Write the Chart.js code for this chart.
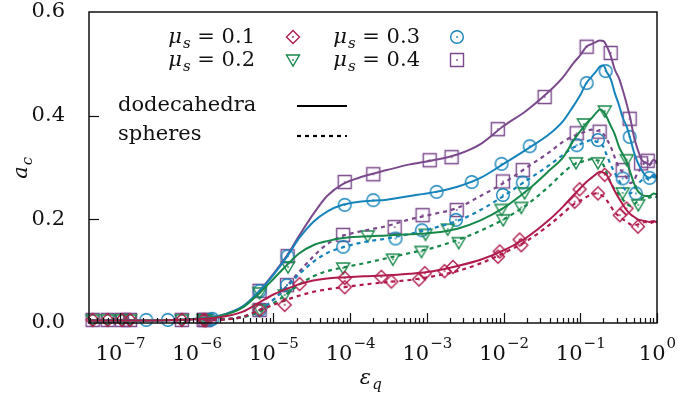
<!DOCTYPE html>
<html>
<head>
<meta charset="utf-8">
<script src="https://cdn.jsdelivr.net/npm/chart.js@4.4.0/dist/chart.umd.min.js"></script>
<style>
  body { margin: 0; background: #fff; }
  canvas { display: block; }
</style>
</head>
<body>
<canvas id="chart" width="677" height="394"></canvas>
<script>
// x grid shared by the dense curves
const lineEps = [4e-8, 1e-7, 3e-7, 1e-6, 2e-6, 4e-6, 6.6e-6, 1e-5, 1.5e-5, 2.2e-5,
  3.3e-5, 5e-5, 8e-5, 1.5e-4, 3e-4, 6e-4, 1.2e-3, 2.5e-3, 5e-3, 1e-2,
  2e-2, 4e-2, 6e-2, 8e-2, 0.1, 0.12, 0.14, 0.16, 0.18, 0.2,
  0.22, 0.25, 0.28, 0.32, 0.36, 0.4, 0.45, 0.5, 0.56, 0.63,
  0.7, 0.8, 0.9, 1.0];

// dodecahedra (solid)
const dodecaLine01 = [.005,.005,.005,.007,.011,.022,.04,.055,.066,.075, .082,.086,.088,.09,.092,.095,.1,.11,.122,.14, .165,.2,.225,.245,.26,.272,.28,.287,.292,.29, .286,.27,.255,.24,.228,.218,.21,.205,.2,.198, .197,.195,.197,.194];
const dodecaLine02 = [.005,.005,.005,.008,.013,.03,.058,.085,.112,.135, .15,.158,.164,.167,.169,.171,.174,.182,.198,.222, .255,.295,.32,.35,.37,.385,.395,.405,.412,.408, .398,.38,.365,.34,.325,.312,.29,.27,.255,.248, .245,.245,.25,.248];
const dodecaLine03 = [.005,.005,.005,.008,.014,.032,.062,.093,.128,.165, .195,.215,.228,.235,.238,.245,.252,.263,.28,.307, .335,.365,.39,.417,.44,.463,.475,.485,.495,.497, .485,.47,.445,.42,.395,.38,.355,.33,.31,.295, .285,.28,.286,.282];
const dodecaLine04 = [.005,.005,.005,.008,.014,.032,.062,.095,.13,.17, .21,.245,.268,.283,.295,.306,.314,.325,.345,.38, .41,.448,.475,.50,.517,.533,.538,.542,.545,.544, .535,.515,.49,.472,.448,.424,.394,.36,.335,.315, .31,.306,.315,.31];

// spheres (dashed)
const sphereLine01 = [null,null,null,.004,.006,.012,.025,.035,.045,.053, .06,.065,.069,.074,.079,.083,.09,.1,.115,.135, .158,.19,.212,.228,.236,.243,.248,.25,.248,.244, .237,.225,.214,.206,.2,.196,.19,.188,.19,.193, .195,.192,.195,.193];
const sphereLine02 = [null,null,null,.005,.007,.011,.022,.038,.056,.075, .09,.1,.107,.115,.125,.135,.145,.16,.178,.2, .228,.265,.29,.305,.31,.314,.316,.314,.312,.305, .29,.27,.258,.248,.238,.23,.226,.228,.235,.24, .244,.242,.245,.243];
const sphereLine03 = [null,null,null,.005,.007,.012,.025,.045,.07,.095, .118,.135,.146,.156,.163,.172,.183,.197,.218,.245, .275,.305,.325,.338,.345,.35,.353,.35,.348,.34, .325,.305,.29,.275,.262,.255,.25,.258,.268,.275, .28,.276,.282,.279];
const sphereLine04 = [null,null,null,.005,.007,.012,.025,.045,.072,.1, .128,.152,.168,.178,.187,.2,.21,.222,.245,.27, .3,.33,.35,.36,.365,.37,.373,.37,.372,.365, .355,.34,.32,.3,.29,.28,.27,.275,.29,.3, .31,.305,.312,.308];

// sampled points (markers)
const dodecaMarkEps01 = [4.4e-8, 6.9e-8, 1.06e-7, 1.35e-7, 6.4e-7, 1.23e-6, 2.19e-5, 8.5e-5, 2.55e-4, 9.4e-4, 2.19e-3, 8.9e-3, 0.0162, 0.098, 0.208, 0.40];
const dodecaMark01 = [.006,.006,.006,.006,.006,.006,.075,.087,.089,.096,.108,.138,.161,.258,.286,.221];
const dodecaMarkEps02 = [4.4e-8, 6.9e-8, 1.06e-7, 1.35e-7, 6.4e-7, 1.23e-6, 6.6e-6, 1.55e-5, 1.69e-4, 9.6e-4, 1.87e-3, 9.4e-3, 0.0188, 0.111, 0.208, 0.403];
const dodecaMark02 = [.006,.006,.006,.006,.006,.006,.058,.108,.168,.171,.181,.219,.251,.384,.409,.315];
const dodecaMarkEps03 = [2.2e-7, 4.2e-7, 1.6e-6, 6.6e-6, 1.53e-5, 8.5e-5, 2.0e-4, 1.34e-3, 3.84e-3, 9.4e-3, 0.0219, 0.121, 0.214, 0.44, 0.80];
const dodecaMark03 = [.006,.006,.008,.062,.129,.228,.237,.253,.272,.307,.341,.463,.486,.359,.28];
const dodecaMarkEps04 = [4.4e-8, 6.9e-8, 1.06e-7, 1.35e-7, 6.4e-7, 1.23e-6, 6.6e-6, 1.53e-5, 8.5e-5, 2.0e-4, 1.09e-3, 2.1e-3, 8.4e-3, 0.0343, 0.121, 0.249, 0.44, 0.757];
const dodecaMark04 = [.006,.006,.006,.006,.006,.006,.062,.129,.272,.287,.314,.320,.374,.436,.533,.521,.394,.313];

const sphereMarkEps01 = [1.3e-6, 6.6e-6, 1.4e-5, 8.5e-5, 3.44e-4, 7.9e-4, 1.7e-3, 8.45e-3, 0.017, 0.0845, 0.17, 0.327, 0.565];
const sphereMark01 = [.005,.025,.035,.069,.080,.084,.100,.128,.150,.234,.25,.208,.186];
const sphereMarkEps02 = [1.3e-6, 6.6e-6, 1.4e-5, 8.1e-5, 3.6e-4, 8.5e-4, 2.6e-3, 9.9e-3, 0.017, 0.088, 0.17, 0.357, 0.57];
const sphereMark02 = [.006,.025,.054,.106,.123,.138,.155,.199,.223,.309,.309,.251,.228];
const sphereMarkEps03 = [1.5e-6, 6.6e-6, 1.5e-5, 8.1e-5, 3.9e-4, 8.6e-4, 2.4e-3, 9.8e-3, 0.0178, 0.09, 0.17, 0.357, 0.53];
const sphereMark03 = [.006,.025,.073,.147,.163,.179,.199,.247,.271,.343,.353,.279,.25];
const sphereMarkEps04 = [1.3e-6, 6.6e-6, 1.5e-5, 8.1e-5, 3.8e-4, 8.8e-4, 2.45e-3, 9.8e-3, 0.0178, 0.0898, 0.179, 0.357, 0.62];
const sphereMark04 = [.006,.025,.073,.17,.185,.208,.218,.273,.295,.366,.369,.295,.308];

const muValues = ["0.1", "0.2", "0.3", "0.4"];
const seriesColors = ["#b01b4c", "#17884a", "#1683bb", "#7b4a8c"];
const markerShapes = ["diamond", "triangle", "circle", "square"];
const xTickExps = [-7, -6, -5, -4, -3, -2, -1, 0];
const xMin = 3.94e-8, xMax = 1;

const FONT = '"DejaVu Serif", serif';

function makeMarker(shape, color) {
  const c = document.createElement("canvas");
  c.width = 20; c.height = 20;
  const g = c.getContext("2d");
  g.strokeStyle = color; g.fillStyle = color; g.lineWidth = 1.4;
  g.beginPath();
  if (shape === "square") g.rect(3.5, 3.5, 13, 13);
  else if (shape === "circle") g.arc(10, 10, 6.3, 0, Math.PI * 2);
  else if (shape === "diamond") { g.moveTo(10, 3.5); g.lineTo(16.5, 10); g.lineTo(10, 16.5); g.lineTo(3.5, 10); g.closePath(); }
  else { g.moveTo(3.5, 5); g.lineTo(16.5, 5); g.lineTo(10, 16); g.closePath(); }
  g.stroke();
  g.fillRect(9.2, 9.2, 1.6, 1.6);
  return c;
}

const markers = markerShapes.map((s, i) => makeMarker(s, seriesColors[i]));

const toPts = (xs, ys) => xs.map((x, i) => ({ x, y: ys[i] }));

const dodecaLines = [dodecaLine01, dodecaLine02, dodecaLine03, dodecaLine04];
const sphereLines = [sphereLine01, sphereLine02, sphereLine03, sphereLine04];
const dodecaMarks = [[dodecaMarkEps01, dodecaMark01], [dodecaMarkEps02, dodecaMark02], [dodecaMarkEps03, dodecaMark03], [dodecaMarkEps04, dodecaMark04]];
const sphereMarks = [[sphereMarkEps01, sphereMark01], [sphereMarkEps02, sphereMark02], [sphereMarkEps03, sphereMark03], [sphereMarkEps04, sphereMark04]];

const datasets = [];
for (let i = 0; i < 4; i++) {
  datasets.push({ data: toPts(lineEps, sphereLines[i]), borderColor: seriesColors[i], borderWidth: 2.2,
    borderDash: [4, 4], pointRadius: 0, cubicInterpolationMode: "monotone" });
  datasets.push({ data: toPts(lineEps, dodecaLines[i]), borderColor: seriesColors[i], borderWidth: 2,
    pointRadius: 0, cubicInterpolationMode: "monotone" });
}
for (let i = 0; i < 4; i++) {
  datasets.push({ data: toPts(sphereMarks[i][0], sphereMarks[i][1]), showLine: false,
    pointStyle: markers[i], pointRadius: 7, clip: false });
  datasets.push({ data: toPts(dodecaMarks[i][0], dodecaMarks[i][1]), showLine: false,
    pointStyle: markers[i], pointRadius: 7, clip: false });
}

function subText(ctx, base, sub, x, y, size) {
  ctx.font = "italic " + size + "px " + FONT;
  ctx.fillText(base, x, y);
  const w = ctx.measureText(base).width;
  ctx.font = "italic " + Math.round(size * 0.72) + "px " + FONT;
  ctx.fillText(sub, x + w + 1, y + 5);
  return w + 1 + ctx.measureText(sub).width;
}

const decorations = {
  id: "decorations",
  afterDatasetsDraw(chart) {
    const ctx = chart.ctx;
    const a = chart.chartArea;
    const xs = chart.scales.x, ys = chart.scales.y;
    ctx.save();
    ctx.strokeStyle = "#111";
    ctx.fillStyle = "#111";
    ctx.lineWidth = 1.5;
    ctx.strokeRect(a.left, a.top, a.right - a.left, a.bottom - a.top);

    // inward ticks on the x axis
    ctx.lineWidth = 1.2;
    for (let e = -8; e <= 0; e++) {
      for (let m = 1; m <= 9; m++) {
        const v = m * Math.pow(10, e);
        if (v < xMin || v > xMax) continue;
        const px = Math.round(xs.getPixelForValue(v)) + 0.5;
        const len = m === 1 ? 10 : 5;
        ctx.beginPath(); ctx.moveTo(px, a.bottom); ctx.lineTo(px, a.bottom - len); ctx.stroke();
      }
    }
    // inward ticks on the y axis
    ys.ticks.forEach(t => {
      if (t.value <= 0 || t.value >= 0.6) return;
      const py = Math.round(ys.getPixelForValue(t.value)) + 0.5;
      ctx.beginPath(); ctx.moveTo(a.left, py); ctx.lineTo(a.left + 10, py); ctx.stroke();
    });

    // x tick labels 10^n
    ctx.textBaseline = "alphabetic";
    xTickExps.forEach(e => {
      const px = xs.getPixelForValue(Math.pow(10, e));
      const sup = e === 0 ? "0" : "\u2212" + (-e);
      ctx.font = "21px " + FONT;
      const w1 = ctx.measureText("10").width;
      ctx.font = "15px " + FONT;
      const w2 = ctx.measureText(sup).width;
      const x0 = px - (w1 + w2) / 2;
      ctx.font = "21px " + FONT;
      ctx.fillText("10", x0, 360);
      ctx.font = "15px " + FONT;
      ctx.fillText(sup, x0 + w1 + 1, 348);
    });

    // axis titles
    ctx.font = "italic 21px " + FONT;
    const we = ctx.measureText("\u03b5").width;
    subText(ctx, "\u03b5", "q", 370 - (we + 9) / 2, 384, 21);

    ctx.save();
    ctx.translate(27, 168);
    ctx.rotate(-Math.PI / 2);
    ctx.font = "italic 21px " + FONT;
    const wa = ctx.measureText("a").width;
    subText(ctx, "a", "c", -(wa + 9) / 2, 0, 21);
    ctx.restore();

    // legend: friction coefficients and markers
    const rows = [[0, 2], [1, 3]];
    const rowY = [43, 66];
    const textRight = [255, 420];
    const markX = [293, 457];
    rows.forEach((row, r) => {
      row.forEach((si, col) => {
        ctx.fillStyle = "#111";
        ctx.font = "21px " + FONT;
        const rest = " = " + muValues[si];
        const wr = ctx.measureText(rest).width;
        ctx.font = "italic 21px " + FONT;
        const wm = ctx.measureText("\u03bc").width;
        ctx.font = "italic 15px " + FONT;
        const ws = ctx.measureText("s").width;
        const x0 = textRight[col] - wr - wm - ws - 1;
        const used = subText(ctx, "\u03bc", "s", x0, rowY[r], 21);
        ctx.font = "21px " + FONT;
        ctx.fillText(rest, x0 + used, rowY[r]);
        ctx.drawImage(markers[si], markX[col] - 10, rowY[r] - 16);
      });
    });

    // legend: particle shapes
    ctx.fillStyle = "#111";
    ctx.font = "21px " + FONT;
    ctx.fillText("dodecahedra", 118, 111);
    ctx.fillText("spheres", 118, 140);
    ctx.lineWidth = 2.2;
    ctx.strokeStyle = "#000";
    ctx.beginPath(); ctx.moveTo(297, 106); ctx.lineTo(347, 106); ctx.stroke();
    ctx.setLineDash([4, 4]);
    ctx.beginPath(); ctx.moveTo(297, 136); ctx.lineTo(347, 136); ctx.stroke();
    ctx.restore();
  }
};

new Chart(document.getElementById("chart"), {
  type: "line",
  data: { datasets },
  options: {
    responsive: false,
    animation: false,
    devicePixelRatio: 1,
    layout: { padding: { top: 12, right: 20, left: 0, bottom: 0 } },
    plugins: { legend: { display: false }, tooltip: { enabled: false } },
    scales: {
      x: {
        type: "logarithmic", min: xMin, max: xMax,
        ticks: { display: false },
        grid: { display: false },
        border: { display: false },
        afterFit: s => { s.height = 71; s.paddingLeft = 0; s.paddingRight = 0; }
      },
      y: {
        min: 0, max: 0.6,
        ticks: { stepSize: 0.2, padding: 16, color: "#111",
          font: { family: FONT, size: 21, lineHeight: 1 },
          callback: v => v.toFixed(1) },
        grid: { display: false },
        border: { display: false },
        afterFit: s => { s.width = 89; s.paddingTop = 0; s.paddingBottom = 0; }
      }
    }
  },
  plugins: [decorations]
});
</script>
</body>
</html>
